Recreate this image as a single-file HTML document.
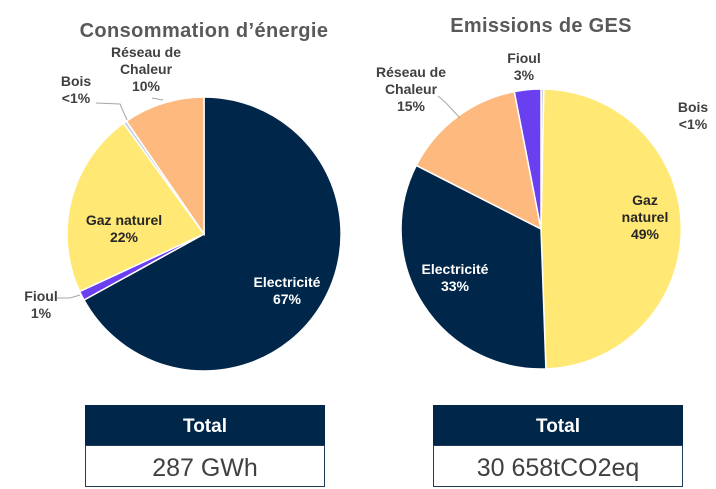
<!DOCTYPE html>
<html><head><meta charset="utf-8"><style>
body{margin:0;background:#fff;width:716px;height:489px;overflow:hidden}
svg{display:block;font-family:"Liberation Sans",Arial,sans-serif}
</style></head><body>
<svg width="716" height="489" viewBox="0 0 716 489">
<text x="204" y="37" text-anchor="middle" font-size="20" font-weight="bold" fill="#595959" letter-spacing="0.4">Consommation d’énergie</text>
<text x="541" y="32" text-anchor="middle" font-size="20" font-weight="bold" fill="#595959" letter-spacing="0.3">Emissions de GES</text>
<g stroke="#fff" stroke-width="1.5">
<path d="M204,234 L204,97 A137,137 0 1 1 84,300 Z" fill="#00274a"/>
<path d="M204,234 L84,300 A137,137 0 0 1 79.6,291.5 Z" fill="#6a3ff0"/>
<path d="M204,234 L79.6,291.5 A137,137 0 0 1 123.5,123.2 Z" fill="#ffe873"/>
<path d="M204,234 L123.5,123.2 A137,137 0 0 1 126.4,121.1 Z" fill="#c9d2e0"/>
<path d="M204,234 L126.4,121.1 A137,137 0 0 1 204,97 Z" fill="#fdb97e"/>
<path d="M541,229 L541,89 A140,140 0 0 1 543.9,89 Z" fill="#c9d2e0"/>
<path d="M541,229 L543.9,89 A140,140 0 0 1 545.9,368.9 Z" fill="#ffe873"/>
<path d="M541,229 L545.9,368.9 A140,140 0 0 1 416.3,165.4 Z" fill="#00274a"/>
<path d="M541,229 L416.3,165.4 A140,140 0 0 1 514.3,91.6 Z" fill="#fdb97e"/>
<path d="M541,229 L514.3,91.6 A140,140 0 0 1 541,89 Z" fill="#6a3ff0"/>
</g>
<g fill="none" stroke="#a6a6a6" stroke-width="1">
<polyline points="96,103 120,104 127,120"/>
<polyline points="152,98 163,100"/>
<polyline points="57,298 70,298 80,295"/>
<polyline points="438,96 446,103 460,118"/>
</g>
<g font-size="14" font-weight="bold" text-anchor="middle" fill="#404040">
<text x="146" y="57">Réseau de</text><text x="146" y="74">Chaleur</text><text x="146" y="91">10%</text>
<text x="76" y="86">Bois</text><text x="76" y="103">&lt;1%</text>
<text x="41" y="301">Fioul</text><text x="41" y="318">1%</text>
<text x="411" y="77">Réseau de</text><text x="411" y="94">Chaleur</text><text x="411" y="111">15%</text>
<text x="524" y="63">Fioul</text><text x="524" y="80">3%</text>
<text x="693" y="112">Bois</text><text x="693" y="129">&lt;1%</text>
</g>
<g font-size="14" font-weight="bold" text-anchor="middle">
<text x="124" y="225" fill="#262626">Gaz naturel</text><text x="124" y="242" fill="#262626">22%</text>
<text x="287" y="287" fill="#fff">Electricité</text><text x="287" y="304" fill="#fff">67%</text>
<text x="645" y="205" fill="#262626">Gaz</text><text x="645" y="222" fill="#262626">naturel</text><text x="645" y="239" fill="#262626">49%</text>
<text x="455" y="274" fill="#fff">Electricité</text><text x="455" y="291" fill="#fff">33%</text>
</g>
<rect x="85" y="405" width="240" height="40" fill="#00274a"/>
<rect x="85.5" y="445.5" width="239" height="41" fill="#fff" stroke="#1f3a5a"/>
<text x="205" y="432" text-anchor="middle" font-size="19" font-weight="bold" fill="#fff">Total</text>
<text x="205" y="476" text-anchor="middle" font-size="25" fill="#404040">287 GWh</text>
<rect x="433" y="405" width="250" height="40" fill="#00274a"/>
<rect x="433.5" y="445.5" width="249" height="41" fill="#fff" stroke="#1f3a5a"/>
<text x="558" y="432" text-anchor="middle" font-size="19" font-weight="bold" fill="#fff">Total</text>
<text x="558" y="476" text-anchor="middle" font-size="25" fill="#404040">30 658tCO2eq</text>
</svg>
</body></html>
